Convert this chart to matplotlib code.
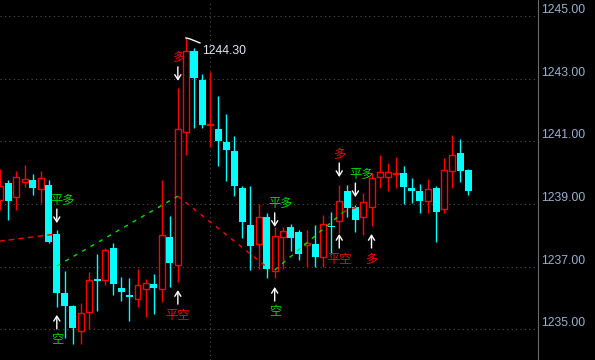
import matplotlib
matplotlib.use('Agg')
import matplotlib.pyplot as plt

plt.rcParams['font.family'] = ['Liberation Sans', 'DejaVu Sans']

# candle data
opens  = [1239.13, 1239.67, 1239.22, 1239.70, 1239.77, 1239.48, 1239.61, 1238.04, 1236.16, 1235.74,
          1234.95, 1235.55, 1236.61, 1236.57, 1237.59, 1236.32, 1236.09, 1235.97, 1236.29, 1236.45,
          1236.29, 1237.95, 1237.05, 1241.30, 1243.88, 1242.96, 1241.52, 1241.39, 1240.98, 1240.69,
          1239.51, 1238.33, 1237.72, 1238.58, 1236.86, 1237.95, 1238.27, 1238.11, 1237.69, 1237.72,
          1237.31, 1238.30, 1238.46, 1239.41, 1238.90, 1238.58, 1238.90, 1239.86, 1239.86, 1239.95,
          1239.99, 1239.51, 1239.41, 1239.09, 1239.51, 1238.84, 1240.05, 1240.63, 1240.08]
highs  = [1240.12, 1239.77, 1240.05, 1240.24, 1239.96, 1240.05, 1239.77, 1238.17, 1236.86, 1235.76,
          1235.84, 1236.83, 1237.40, 1237.59, 1237.75, 1236.67, 1236.64, 1236.92, 1236.61, 1236.76,
          1239.77, 1238.62, 1242.70, 1244.30, 1243.98, 1243.15, 1243.21, 1242.45, 1241.87, 1241.17,
          1239.57, 1239.57, 1239.00, 1238.71, 1238.27, 1238.27, 1238.36, 1238.17, 1238.17, 1238.33,
          1238.65, 1238.74, 1239.61, 1239.61, 1238.97, 1239.35, 1239.99, 1240.56, 1240.31, 1240.50,
          1240.21, 1239.83, 1239.64, 1239.80, 1239.57, 1240.47, 1241.20, 1241.07, 1240.12]
lows   = [1238.81, 1238.49, 1238.81, 1239.54, 1239.29, 1239.03, 1237.77, 1235.71, 1234.72, 1234.53,
          1234.53, 1235.01, 1235.58, 1236.41, 1236.09, 1235.90, 1235.26, 1235.71, 1235.39, 1235.49,
          1235.87, 1236.35, 1236.51, 1240.56, 1241.43, 1241.43, 1240.82, 1240.21, 1239.73, 1239.25,
          1237.91, 1236.89, 1236.92, 1236.64, 1236.64, 1236.92, 1237.50, 1237.21, 1236.99, 1236.99,
          1236.99, 1237.40, 1238.07, 1238.58, 1238.11, 1238.01, 1238.30, 1239.51, 1239.41, 1239.51,
          1239.00, 1239.03, 1238.71, 1238.71, 1237.79, 1238.71, 1239.51, 1239.70, 1239.29]
closes = [1239.57, 1239.09, 1239.86, 1239.80, 1239.51, 1239.83, 1237.79, 1236.16, 1235.74, 1235.04,
          1235.52, 1236.57, 1236.54, 1237.53, 1236.45, 1236.19, 1236.03, 1236.41, 1236.48, 1236.32,
          1238.01, 1237.12, 1241.39, 1243.88, 1243.02, 1241.52, 1241.55, 1241.01, 1240.72, 1239.57,
          1238.42, 1237.66, 1238.58, 1236.92, 1237.98, 1238.14, 1237.91, 1237.40, 1237.75, 1237.31,
          1238.36, 1238.27, 1239.09, 1238.87, 1238.49, 1239.06, 1239.83, 1240.02, 1240.02, 1239.96,
          1239.54, 1239.41, 1239.09, 1239.48, 1238.74, 1240.08, 1240.56, 1240.05, 1239.41]

# zigzag style guide lines (bar index, price)
zz_red1_x, zz_red1_y = [-0.5, 6.9], [1237.80, 1238.04]
zz_grn1_x, zz_grn1_y = [7, 22], [1237.02, 1239.25]
zz_red2_x, zz_red2_y = [22, 33], [1239.25, 1236.99]
zz_grn2_x, zz_grn2_y = [34, 42.5], [1236.89, 1238.74]
zz_red3_x, zz_red3_y = [42.5, 44.2], [1238.74, 1238.90]

# trade signals
sig_idx   = [7, 7, 22, 22, 34, 34, 42, 42, 44, 46]
sig_dir   = ['down', 'up', 'down', 'up', 'down', 'up', 'up', 'down', 'down', 'up']
sig_text  = ['平多', '空', '多', '平空', '平多', '空', '平空', '多', '平多', '多']
sig_level = [1238.39, 1235.46, 1242.93, 1236.25, 1238.27, 1236.35, 1238.04, 1239.86, 1239.22, 1238.04]

ytick_vals = [1235, 1237, 1239, 1241, 1243, 1245]
max_idx = 23
max_label = '1244.30'
day_sep_idx = 26

RED = '#ff0000'
CYAN = '#00ffff'
GREEN = '#00d800'

fig = plt.figure(figsize=(5.95, 3.6), dpi=100, facecolor='black')
ax = fig.add_axes([0, 0, 538 / 595, 1], facecolor='black')
x0, x1 = -0.04, 66.63
y0, y1 = 1234.02, 1245.51
ax.set_xlim(x0, x1)
ax.set_ylim(y0, y1)

# candles
for i in range(len(opens)):
    o, h, l, c = opens[i], highs[i], lows[i], closes[i]
    lo, hi = min(o, c), max(o, c)
    bh = max(hi - lo, 0.03)
    if c >= o:
        ax.vlines(i, hi, h, color=RED, lw=1, zorder=2)
        ax.vlines(i, l, lo, color=RED, lw=1, zorder=2)
        ax.bar(i, bh, bottom=lo, width=0.74, facecolor='black', edgecolor=RED, linewidth=1, zorder=3)
    else:
        ax.vlines(i, l, h, color=CYAN, lw=1, zorder=2)
        ax.bar(i, bh, bottom=lo, width=0.87, color=CYAN, linewidth=0, zorder=3)

# zigzag lines
ax.plot(zz_red1_x, zz_red1_y, color=RED, lw=1, ls=(0, (4, 3)), zorder=4)
ax.plot(zz_grn1_x, zz_grn1_y, color='#00e000', lw=1, ls=(0, (3, 4)), zorder=4)
ax.plot(zz_red2_x, zz_red2_y, color=RED, lw=1, ls=(0, (3, 4)), zorder=4)
ax.plot(zz_grn2_x, zz_grn2_y, color='#00e000', lw=1, ls=(0, (3, 4)), zorder=4)
ax.plot(zz_red3_x, zz_red3_y, color=RED, lw=1, ls=(0, (3, 4)), zorder=4)

# signals: arrows and labels
cjk = ['Noto Sans CJK SC', 'DejaVu Sans']
for i, d, t, lv in zip(sig_idx, sig_dir, sig_text, sig_level):
    col = RED if t in ('多', '平空') else GREEN
    off = 14 if d == 'down' else -14
    ax.annotate('', xy=(i, lv), xytext=(0, off), textcoords='offset pixels',
                arrowprops=dict(arrowstyle='->,head_length=0.35,head_width=0.22',
                                color='white', lw=1, shrinkA=0, shrinkB=0), zorder=5)
    ty = 23 if d == 'down' else -25
    if t == '平多':
        ax.annotate(t, xy=(i, lv), xytext=(-6.5, ty), textcoords='offset pixels',
                    ha='left', va='center', color=col, fontsize=8.8, weight='medium',
                    family=cjk, zorder=5)
    else:
        ax.annotate(t, xy=(i, lv), xytext=(0, ty), textcoords='offset pixels',
                    ha='center', va='center', color=col, fontsize=8.8, weight='medium',
                    family=cjk, zorder=5)

# max price marker
sx = 538 / (x1 - x0)
sy = 360 / (y1 - y0)
hm = highs[max_idx]
ax.plot([max_idx, max_idx + 4 / sx, max_idx + 14 / sx],
        [hm, hm - 1 / sy, hm - 5 / sy], color='white', lw=1, zorder=5)
ax.annotate(max_label, xy=(max_idx, hm), xytext=(16, -13), textcoords='offset pixels',
            ha='left', va='center', color='#dfe8f2', fontsize=8.8, zorder=5)

# grid and axes
ax.set_yticks(ytick_vals)
ax.set_yticklabels(['%.2f' % v for v in ytick_vals])
ax.yaxis.tick_right()
ax.tick_params(axis='y', length=0, pad=2, labelcolor='#9ab0d0', labelsize=8.8)
for lab in ax.get_yticklabels():
    lab.set_va('bottom')
ax.set_xticks([])
ax.grid(axis='y', color='#505050', linestyle=(0, (1, 3)), lw=0.8)
ax.axvline(day_sep_idx, color='#505050', linestyle=(0, (1, 3)), lw=0.8, zorder=1)
for s in ['top', 'left', 'bottom']:
    ax.spines[s].set_visible(False)
ax.spines['right'].set_color('#6a6a6a')

fig.savefig('out.png', dpi=100, facecolor='black')
